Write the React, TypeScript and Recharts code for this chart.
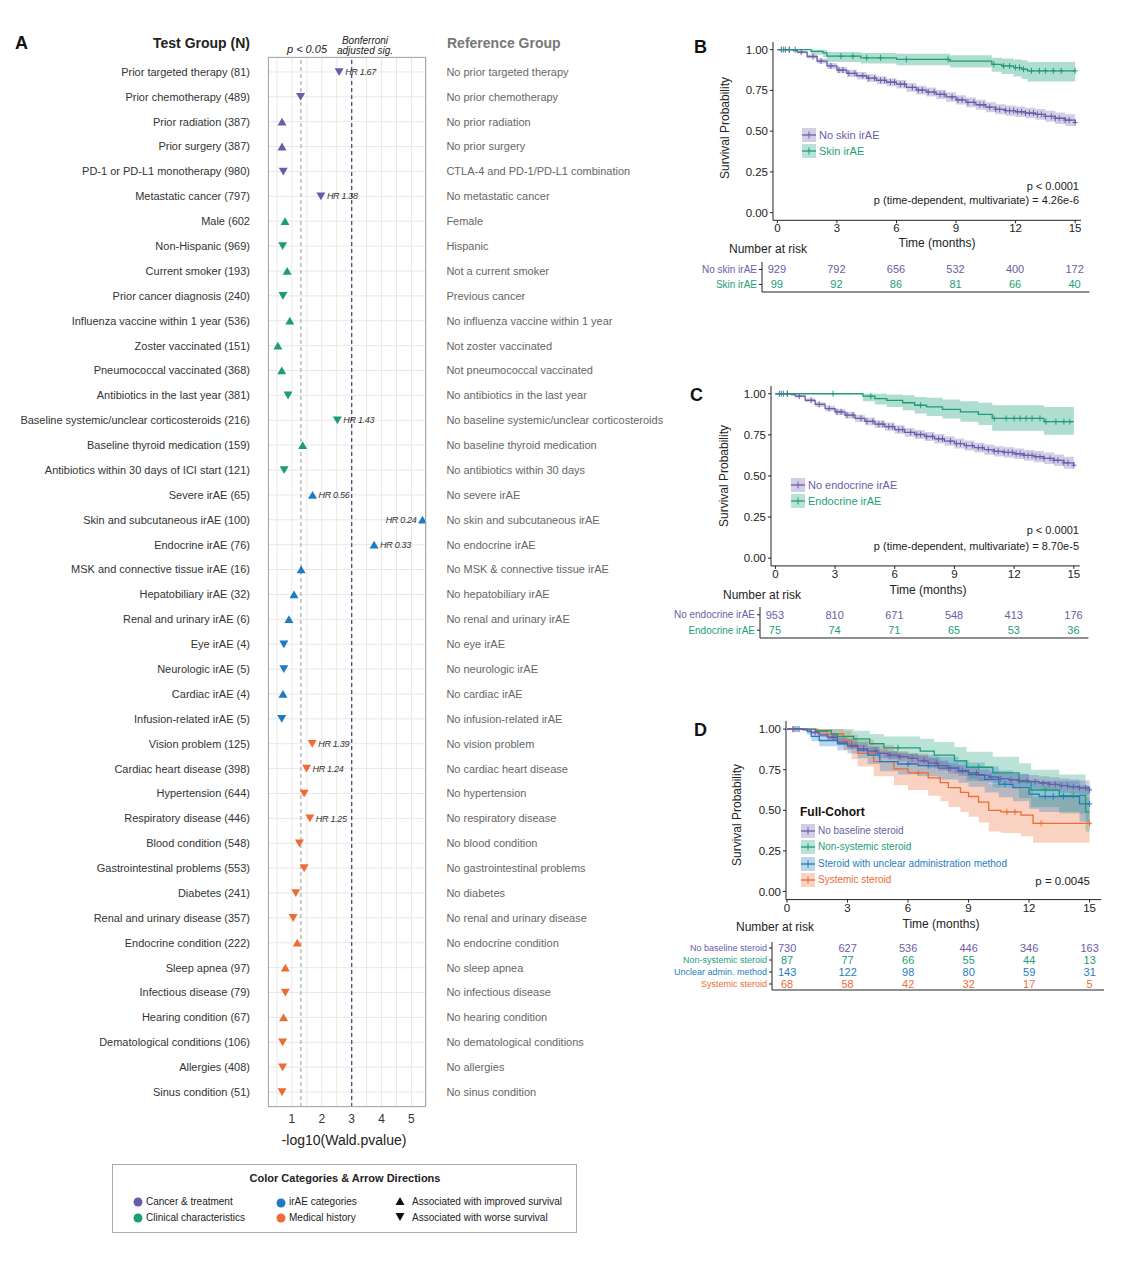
import React from "react";
import {
  Area,
  CartesianGrid,
  ComposedChart,
  Line,
  ReferenceLine,
  Scatter,
  ScatterChart,
  XAxis,
  YAxis,
} from "recharts";

const FONT = '"Liberation Sans", Arial, Helvetica, sans-serif';

const PURPLE = "#6b5ca8";
const GREEN = "#1b9e77";
const BLUE = "#1f7bbf";
const ORANGE = "#ee6b35";

// ---------- Panel A data ----------
const testGroups = [
  "Prior targeted therapy (81)",
  "Prior chemotherapy (489)",
  "Prior radiation (387)",
  "Prior surgery (387)",
  "PD-1 or PD-L1 monotherapy (980)",
  "Metastatic cancer (797)",
  "Male (602",
  "Non-Hispanic (969)",
  "Current smoker (193)",
  "Prior cancer diagnosis (240)",
  "Influenza vaccine within 1 year (536)",
  "Zoster vaccinated (151)",
  "Pneumococcal vaccinated (368)",
  "Antibiotics in the last year (381)",
  "Baseline systemic/unclear corticosteroids (216)",
  "Baseline thyroid medication (159)",
  "Antibiotics within 30 days of ICI start (121)",
  "Severe irAE (65)",
  "Skin and subcutaneous irAE (100)",
  "Endocrine irAE (76)",
  "MSK and connective tissue irAE (16)",
  "Hepatobiliary irAE (32)",
  "Renal and urinary irAE (6)",
  "Eye irAE (4)",
  "Neurologic irAE (5)",
  "Cardiac irAE (4)",
  "Infusion-related irAE (5)",
  "Vision problem (125)",
  "Cardiac heart disease (398)",
  "Hypertension (644)",
  "Respiratory disease (446)",
  "Blood condition (548)",
  "Gastrointestinal problems (553)",
  "Diabetes (241)",
  "Renal and urinary disease (357)",
  "Endocrine condition (222)",
  "Sleep apnea (97)",
  "Infectious disease (79)",
  "Hearing condition (67)",
  "Dematological conditions (106)",
  "Allergies (408)",
  "Sinus condition (51)",
];

const referenceGroups = [
  "No prior targeted therapy",
  "No prior chemotherapy",
  "No prior radiation",
  "No prior surgery",
  "CTLA-4 and PD-1/PD-L1 combination",
  "No metastatic cancer",
  "Female",
  "Hispanic",
  "Not a current smoker",
  "Previous cancer",
  "No influenza vaccine within 1 year",
  "Not zoster vaccinated",
  "Not pneumococcal vaccinated",
  "No antibiotics in the last year",
  "No baseline systemic/unclear corticosteroids",
  "No baseline thyroid medication",
  "No antibiotics within 30 days",
  "No severe irAE",
  "No skin and subcutaneous irAE",
  "No endocrine irAE",
  "No MSK & connective tissue irAE",
  "No hepatobiliary irAE",
  "No renal and urinary irAE",
  "No eye irAE",
  "No neurologic irAE",
  "No cardiac irAE",
  "No infusion-related irAE",
  "No vision problem",
  "No cardiac heart disease",
  "No hypertension",
  "No respiratory disease",
  "No blood condition",
  "No gastrointestinal problems",
  "No diabetes",
  "No renal and urinary disease",
  "No endocrine condition",
  "No sleep apnea",
  "No infectious disease",
  "No hearing condition",
  "No dematological conditions",
  "No allergies",
  "No sinus condition",
];

// -log10(Wald p)
const log10p = [
  2.58, 1.29, 0.67, 0.67, 0.71, 1.97,
  0.77, 0.69, 0.84, 0.7, 0.93, 0.53, 0.66, 0.87, 2.52, 1.36, 0.74,
  1.69, 5.37, 3.75, 1.31, 1.07, 0.9, 0.73, 0.73, 0.7, 0.66,
  1.68, 1.49, 1.41, 1.6, 1.25, 1.41, 1.13, 1.04, 1.18, 0.78, 0.78, 0.72, 0.69, 0.69, 0.67,
];

// 1 = improved survival (up), -1 = worse survival (down)
const arrowDir = [
  -1, -1, 1, 1, -1, -1,
  1, -1, 1, -1, 1, 1, 1, -1, -1, 1, -1,
  1, 1, 1, 1, 1, 1, -1, -1, 1, -1,
  -1, -1, -1, -1, -1, -1, -1, -1, 1, 1, -1, 1, -1, -1, -1,
];

const categoryOf = [
  "cancer", "cancer", "cancer", "cancer", "cancer", "cancer",
  "clinical", "clinical", "clinical", "clinical", "clinical", "clinical",
  "clinical", "clinical", "clinical", "clinical", "clinical",
  "irae", "irae", "irae", "irae", "irae", "irae", "irae", "irae", "irae", "irae",
  "medical", "medical", "medical", "medical", "medical", "medical", "medical", "medical",
  "medical", "medical", "medical", "medical", "medical", "medical", "medical",
];

const hrLabels = [
  "HR 1.67", "", "", "", "", "HR 1.38",
  "", "", "", "", "", "", "", "", "HR 1.43", "", "",
  "HR 0.56", "HR 0.24", "HR 0.33", "", "", "", "", "", "", "",
  "HR 1.39", "HR 1.24", "", "HR 1.25", "", "", "", "", "", "", "", "", "", "", "",
];

const forestXTicks = [0.5, 1, 1.5, 2, 2.5, 3, 3.5, 4, 4.5, 5, 5.5];

const catColor: Record<string, string> = {
  cancer: PURPLE,
  clinical: GREEN,
  irae: BLUE,
  medical: ORANGE,
};

// ---------- KM data: [time, survival, lower, upper] ----------
const noSkinPts = [
  [0, 1, 1, 1], [0.8, 0.995, 0.99, 1], [1.0, 0.985, 0.977, 0.993], [1.5, 0.958, 0.946, 0.97],
  [2.0, 0.93, 0.915, 0.945], [2.5, 0.9, 0.882, 0.918], [3.0, 0.875, 0.855, 0.895],
  [3.5, 0.855, 0.833, 0.877], [4.0, 0.84, 0.817, 0.863], [4.5, 0.825, 0.801, 0.849],
  [5.0, 0.812, 0.787, 0.837], [5.5, 0.8, 0.775, 0.825], [6.0, 0.788, 0.762, 0.814],
  [6.5, 0.768, 0.741, 0.795], [7.0, 0.752, 0.725, 0.779], [7.5, 0.74, 0.712, 0.768],
  [8.0, 0.726, 0.698, 0.754], [8.5, 0.71, 0.681, 0.739], [9.0, 0.692, 0.663, 0.721],
  [9.5, 0.677, 0.647, 0.707], [10.0, 0.662, 0.632, 0.692], [10.5, 0.647, 0.616, 0.678],
  [11.0, 0.634, 0.603, 0.665], [11.5, 0.626, 0.595, 0.657], [12.0, 0.619, 0.587, 0.651],
  [12.5, 0.611, 0.579, 0.643], [13.0, 0.603, 0.57, 0.636], [13.5, 0.591, 0.557, 0.625],
  [14.0, 0.579, 0.544, 0.614], [14.5, 0.568, 0.532, 0.604], [15.0, 0.553, 0.516, 0.59],
];
const noSkinCensor = [
  0.2, 0.4, 0.6, 1.2, 1.8, 2.2, 2.7, 3.1, 3.3, 3.6, 3.9, 4.3, 4.6, 4.9, 5.2, 5.4, 5.7, 5.9,
  6.2, 6.4, 6.8, 7.1, 7.3, 7.6, 7.9, 8.2, 8.4, 8.8, 9.1, 9.3, 9.6, 9.9, 10.2, 10.4, 10.7,
  11.0, 11.2, 11.5, 11.7, 11.9, 12.1, 12.3, 12.5, 12.7, 12.9, 13.1, 13.3, 13.5, 13.8,
  14.0, 14.2, 14.5, 14.7, 15.0,
];
const skinPts = [
  [0, 1, 1, 1], [1.7, 0.99, 0.97, 1], [2.3, 0.98, 0.955, 1], [2.5, 0.96, 0.925, 0.985],
  [4.2, 0.95, 0.915, 0.98], [6.0, 0.94, 0.905, 0.975], [8.7, 0.93, 0.89, 0.965],
  [10.8, 0.91, 0.865, 0.95], [11.3, 0.9, 0.85, 0.945], [11.9, 0.89, 0.835, 0.94],
  [12.3, 0.88, 0.82, 0.935], [12.6, 0.87, 0.805, 0.925], [15, 0.87, 0.805, 0.925],
];
const skinCensor = [
  0.3, 0.6, 0.9, 3.2, 3.8, 4.5, 5.2, 6.5, 8.6, 10.9, 11.4, 11.7, 12.0, 12.2, 12.4, 12.8,
  13.2, 13.5, 13.9, 14.3, 15.0,
];

const noEndoPts = [
  [0, 1, 1, 1], [0.8, 0.995, 0.99, 1], [1.0, 0.985, 0.977, 0.993], [1.5, 0.96, 0.948, 0.972],
  [2.0, 0.935, 0.92, 0.95], [2.5, 0.91, 0.893, 0.927], [3.0, 0.89, 0.871, 0.909],
  [3.5, 0.87, 0.849, 0.891], [4.0, 0.85, 0.828, 0.872], [4.5, 0.832, 0.809, 0.855],
  [5.0, 0.815, 0.791, 0.839], [5.5, 0.8, 0.775, 0.825], [6.0, 0.782, 0.756, 0.808],
  [6.5, 0.765, 0.738, 0.792], [7.0, 0.752, 0.724, 0.78], [7.5, 0.74, 0.712, 0.768],
  [8.0, 0.726, 0.697, 0.755], [8.5, 0.712, 0.683, 0.741], [9.0, 0.697, 0.667, 0.727],
  [9.5, 0.685, 0.655, 0.715], [10.0, 0.672, 0.642, 0.702], [10.5, 0.66, 0.629, 0.691],
  [11.0, 0.65, 0.619, 0.681], [11.5, 0.643, 0.611, 0.675], [12.0, 0.635, 0.603, 0.667],
  [12.5, 0.625, 0.592, 0.658], [13.0, 0.617, 0.583, 0.651], [13.5, 0.607, 0.572, 0.642],
  [14.0, 0.595, 0.56, 0.63], [14.5, 0.58, 0.544, 0.616], [15.0, 0.565, 0.528, 0.602],
];
const noEndoCensor = noSkinCensor;
const endoPts = [
  [0, 1, 1, 1], [4.4, 0.985, 0.955, 1], [5.0, 0.97, 0.935, 1], [5.6, 0.96, 0.92, 0.995],
  [6.4, 0.945, 0.9, 0.99], [7.0, 0.93, 0.88, 0.98], [7.6, 0.92, 0.865, 0.975],
  [8.4, 0.905, 0.85, 0.965], [9.3, 0.89, 0.83, 0.955], [10.2, 0.875, 0.81, 0.945],
  [10.9, 0.85, 0.775, 0.93], [13.5, 0.83, 0.75, 0.92], [15, 0.83, 0.75, 0.92],
];
const endoCensor = [
  0.3, 0.6, 2.9, 4.8, 7.3, 11.0, 11.6, 12.0, 12.3, 12.6, 12.9, 13.3, 13.6, 14.1, 14.5, 14.8,
];

const noSteroidPts = [
  [0, 1, 1, 1], [0.8, 0.995, 0.99, 1], [1.2, 0.98, 0.97, 0.99], [1.6, 0.965, 0.952, 0.978],
  [2.0, 0.95, 0.935, 0.965], [2.5, 0.92, 0.9, 0.94], [3.0, 0.9, 0.878, 0.922],
  [3.5, 0.88, 0.856, 0.904], [4.0, 0.865, 0.84, 0.89], [4.5, 0.85, 0.824, 0.876],
  [5.0, 0.84, 0.813, 0.867], [5.5, 0.83, 0.802, 0.858], [6.0, 0.82, 0.791, 0.849],
  [6.5, 0.805, 0.775, 0.835], [7.0, 0.79, 0.759, 0.821], [7.5, 0.775, 0.743, 0.807],
  [8.0, 0.76, 0.727, 0.793], [8.5, 0.745, 0.711, 0.779], [9.0, 0.73, 0.695, 0.765],
  [9.5, 0.715, 0.679, 0.751], [10.0, 0.705, 0.668, 0.742], [10.5, 0.695, 0.657, 0.733],
  [11.0, 0.688, 0.649, 0.727], [11.5, 0.682, 0.642, 0.722], [12.0, 0.676, 0.635, 0.717],
  [12.5, 0.668, 0.626, 0.71], [13.0, 0.66, 0.617, 0.703], [13.5, 0.652, 0.608, 0.696],
  [14.0, 0.645, 0.6, 0.69], [14.5, 0.638, 0.592, 0.684], [15, 0.625, 0.578, 0.672],
];
const noSteroidCensor = [
  0.3, 0.6, 1.4, 2.3, 3.2, 3.8, 4.4, 5.1, 5.6, 6.2, 6.8, 7.4, 8.1, 8.7, 9.4, 10.1, 10.6,
  11.1, 11.5, 11.9, 12.3, 12.7, 13.0, 13.3, 13.6, 13.9, 14.2, 14.5, 14.8, 15.0,
];
const nonSystemicPts = [
  [0, 1, 1, 1], [1.4, 0.99, 0.97, 1], [2.2, 0.97, 0.935, 1], [2.5, 0.955, 0.91, 1],
  [3.3, 0.94, 0.89, 0.99], [4.1, 0.91, 0.85, 0.97], [4.8, 0.885, 0.82, 0.955],
  [6.6, 0.865, 0.795, 0.94], [7.3, 0.84, 0.765, 0.92], [8.3, 0.805, 0.725, 0.89],
  [8.9, 0.765, 0.68, 0.86], [10.2, 0.73, 0.64, 0.83], [11.5, 0.675, 0.575, 0.79],
  [12.1, 0.625, 0.52, 0.75], [13.5, 0.59, 0.48, 0.72], [14.8, 0.49, 0.37, 0.65],
  [15, 0.49, 0.37, 0.65],
];
const nonSystemicCensor = [0.5, 5.5, 9.5, 12.8, 14.2];
const unclearPts = [
  [0, 1, 1, 1], [1.0, 0.985, 0.965, 1], [1.2, 0.955, 0.925, 0.99], [1.6, 0.93, 0.895, 0.97],
  [2.5, 0.91, 0.87, 0.955], [3.0, 0.895, 0.85, 0.94], [3.5, 0.87, 0.82, 0.92],
  [4.0, 0.84, 0.785, 0.895], [4.6, 0.8, 0.74, 0.86], [5.5, 0.785, 0.72, 0.85],
  [6.5, 0.775, 0.71, 0.84], [7.5, 0.76, 0.69, 0.83], [8.5, 0.74, 0.67, 0.81],
  [9.0, 0.72, 0.645, 0.795], [9.8, 0.69, 0.61, 0.77], [10.5, 0.66, 0.58, 0.745],
  [11.2, 0.64, 0.555, 0.725], [12.0, 0.6, 0.51, 0.69], [12.5, 0.585, 0.49, 0.68],
  [14.5, 0.54, 0.43, 0.655], [15, 0.54, 0.43, 0.655],
];
const unclearCensor = [0.4, 6.0, 7.0, 8.0, 10.8, 12.8, 13.2, 13.7, 15.0];
const systemicPts = [
  [0, 1, 1, 1], [1.5, 0.985, 0.955, 1], [2.0, 0.97, 0.93, 1], [2.8, 0.93, 0.87, 0.99],
  [3.2, 0.89, 0.815, 0.965], [3.5, 0.85, 0.77, 0.935], [4.3, 0.8, 0.71, 0.9],
  [5.3, 0.755, 0.655, 0.865], [6.0, 0.73, 0.625, 0.85], [7.0, 0.7, 0.59, 0.825],
  [7.6, 0.67, 0.555, 0.8], [8.0, 0.64, 0.52, 0.775], [8.6, 0.61, 0.49, 0.75],
  [9.0, 0.585, 0.46, 0.73], [9.5, 0.55, 0.425, 0.7], [10.0, 0.5, 0.37, 0.66],
  [10.6, 0.49, 0.36, 0.65], [11.6, 0.47, 0.34, 0.63], [12.2, 0.42, 0.3, 0.58],
  [15, 0.42, 0.3, 0.58],
];
const systemicCensor = [0.3, 6.5, 10.9, 11.3, 12.6, 15.0];

// ---------- Number at risk ----------
const riskTimes = [0, 3, 6, 9, 12, 15];
const riskNoSkin = [929, 792, 656, 532, 400, 172];
const riskSkin = [99, 92, 86, 81, 66, 40];
const riskNoEndo = [953, 810, 671, 548, 413, 176];
const riskEndo = [75, 74, 71, 65, 53, 36];
const riskNoSteroid = [730, 627, 536, 446, 346, 163];
const riskNonSystemic = [87, 77, 66, 55, 44, 13];
const riskUnclear = [143, 122, 98, 80, 59, 31];
const riskSystemic = [68, 58, 42, 32, 17, 5];

const kmXTicks = [0, 3, 6, 9, 12, 15];
const kmYTicks = [0, 0.25, 0.5, 0.75, 1];

// ---------- helpers ----------
type Anchor = "start" | "middle" | "end";

function Txt(props: {
  x: number;
  y: number;
  children: React.ReactNode;
  anchor?: Anchor;
  size?: number;
  color?: string;
  weight?: number;
  italic?: boolean;
  rotate?: boolean;
}) {
  const { x, y, children, anchor = "start", size = 11, color = "#222", weight = 400, italic, rotate } = props;
  const tx = anchor === "start" ? "0" : anchor === "middle" ? "-50%" : "-100%";
  return (
    <div
      style={{
        position: "absolute",
        left: x,
        top: y,
        transform: `translate(${rotate ? "-50%" : tx}, -50%)${rotate ? " rotate(-90deg)" : ""}`,
        fontFamily: FONT,
        fontSize: size,
        fontWeight: weight,
        fontStyle: italic ? "italic" : "normal",
        color,
        whiteSpace: "nowrap",
        lineHeight: 1,
      }}
    >
      {children}
    </div>
  );
}

const survAt = (pts: number[][], t: number) => {
  let s = 1;
  for (const p of pts) if (p[0] <= t) s = p[1];
  return s;
};

// plain svg text ticks, so Recharts does not wrap the long labels
const rowTick = (labels: string[], anchor: Anchor, fill: string) => (p: any) => (
  <text x={p.x} y={p.y} dy="0.355em" textAnchor={anchor} fontSize={11} fill={fill} fontFamily={FONT}>
    {labels[p.payload.value] ?? ""}
  </text>
);

const ForestMarker = (props: any) => {
  const { cx, cy, payload } = props;
  if (cx == null || cy == null) return <g />;
  const col = catColor[payload.cat];
  const w = 4.5;
  const d =
    payload.dir > 0
      ? `M${cx - w},${cy + 3.8} L${cx + w},${cy + 3.8} L${cx},${cy - 4} Z`
      : `M${cx - w},${cy - 3.8} L${cx + w},${cy - 3.8} L${cx},${cy + 4} Z`;
  const onLeft = payload.x > 5;
  return (
    <g>
      <path d={d} fill={col} />
      {payload.hr ? (
        <text
          x={onLeft ? cx - 6 : cx + 6}
          y={cy}
          dy="0.35em"
          textAnchor={onLeft ? "end" : "start"}
          fontSize={9}
          fontStyle="italic"
          fill="#333"
          fontFamily={FONT}
          letterSpacing={-0.3}
        >
          {payload.hr}
        </text>
      ) : null}
    </g>
  );
};

const CensorMark = (color: string) => (props: any) => {
  const { cx, cy } = props;
  if (cx == null || cy == null) return <g />;
  return (
    <g stroke={color} strokeWidth={1}>
      <line x1={cx} y1={cy - 3} x2={cx} y2={cy + 3} />
      <line x1={cx - 2.5} y1={cy} x2={cx + 2.5} y2={cy} />
    </g>
  );
};

type KMCurve = { color: string; pts: number[][]; censor: number[]; band: number };

function KMPlot(props: {
  left: number;
  top: number;
  plotW: number;
  plotH: number;
  xDomain: [number, number];
  yDomain: [number, number];
  curves: KMCurve[];
}) {
  const { left, top, plotW, plotH, xDomain, yDomain, curves } = props;
  const yW = 50;
  const xH = 24;
  return (
    <div style={{ position: "absolute", left: left - yW, top }}>
      <ComposedChart
        width={yW + plotW}
        height={plotH + xH}
        margin={{ top: 0, right: 0, bottom: 0, left: 0 }}
        style={{ fontFamily: FONT }}
      >
        <XAxis
          type="number"
          dataKey="t"
          domain={xDomain}
          allowDataOverflow
          ticks={kmXTicks}
          interval={0}
          height={xH}
          stroke="#222"
          tickSize={3}
          tickMargin={1}
          tick={{ fontSize: 11.5, fill: "#222" }}
        />
        <YAxis
          type="number"
          domain={yDomain}
          allowDataOverflow
          ticks={kmYTicks}
          interval={0}
          width={yW}
          stroke="#222"
          tickSize={3}
          tickMargin={2}
          tickFormatter={(v: number) => v.toFixed(2)}
          tick={{ fontSize: 11.5, fill: "#222" }}
        />
        {curves.map((c, i) => (
          <Area
            key={`band-${i}`}
            data={c.pts.map((p) => ({ t: p[0], band: [p[2], p[3]] }))}
            dataKey="band"
            type="stepAfter"
            stroke="none"
            fill={c.color}
            fillOpacity={c.band}
            isAnimationActive={false}
          />
        ))}
        {curves.map((c, i) => (
          <Line
            key={`line-${i}`}
            data={c.pts.map((p) => ({ t: p[0], s: p[1] }))}
            dataKey="s"
            type="stepAfter"
            stroke={c.color}
            strokeWidth={1.3}
            dot={false}
            isAnimationActive={false}
          />
        ))}
        {curves.map((c, i) => (
          <Scatter
            key={`cens-${i}`}
            data={c.censor.map((t) => ({ t, s: survAt(c.pts, t) }))}
            dataKey="s"
            shape={CensorMark(c.color)}
            isAnimationActive={false}
          />
        ))}
      </ComposedChart>
    </div>
  );
}

type RiskRow = { label: string; color: string; values: number[] };

function RiskTable(props: {
  left: number;
  top: number;
  plotW: number;
  plotH: number;
  rows: RiskRow[];
  labelSize: number;
}) {
  const { left, top, plotW, plotH, rows, labelSize } = props;
  const yW = 110;
  const data = rows.flatMap((r, ri) =>
    riskTimes.map((t, ti) => ({ x: t, y: ri + 1, v: r.values[ti], c: r.color }))
  );
  const RiskTick = (p: any) => {
    const row = rows[p.payload.value - 1];
    return (
      <text x={p.x} y={p.y} dy="0.35em" textAnchor="end" fontSize={labelSize} fill={row ? row.color : "#333"} fontFamily={FONT}>
        {row ? row.label : ""}
      </text>
    );
  };
  const NumShape = (p: any) => (
    <text x={p.cx} y={p.cy} dy="0.36em" textAnchor="middle" fontSize={11} fill={p.payload.c} fontFamily={FONT}>
      {p.payload.v}
    </text>
  );
  return (
    <div style={{ position: "absolute", left: left - yW, top }}>
      <ScatterChart width={yW + plotW} height={plotH + 2} margin={{ top: 0, right: 0, bottom: 0, left: 0 }}>
        <XAxis type="number" dataKey="x" domain={[-0.75, 15.75]} allowDataOverflow height={2} tick={false} tickLine={false} stroke="#222" />
        <YAxis
          type="number"
          dataKey="y"
          domain={[0.5, rows.length + 0.5]}
          reversed
          allowDataOverflow
          ticks={rows.map((_, i) => i + 1)}
          interval={0}
          width={yW}
          stroke="#222"
          tickSize={3}
          tickMargin={2}
          tick={RiskTick}
        />
        <Scatter data={data} shape={NumShape} isAnimationActive={false} />
      </ScatterChart>
    </div>
  );
}

function Swatch({ color }: { color: string }) {
  return (
    <svg width={14} height={14} style={{ display: "block" }}>
      <rect width={14} height={14} fill={color} fillOpacity={0.3} />
      <line x1={0} y1={7} x2={14} y2={7} stroke={color} strokeWidth={1.3} />
      <line x1={7} y1={3.5} x2={7} y2={10.5} stroke={color} strokeWidth={1} />
    </svg>
  );
}

function KMLegend({ x, y, items, size, step }: { x: number; y: number; items: { label: string; color: string }[]; size: number; step: number }) {
  return (
    <>
      {items.map((it, i) => (
        <div key={i} style={{ position: "absolute", left: x, top: y + i * step - 7 }}>
          <Swatch color={it.color} />
        </div>
      ))}
      {items.map((it, i) => (
        <Txt key={`t${i}`} x={x + 17} y={y + i * step} size={size} color={it.color}>
          {it.label}
        </Txt>
      ))}
    </>
  );
}

export default function App() {
  const forestRows = testGroups.map((g, i) => ({
    x: log10p[i],
    y: i,
    dir: arrowDir[i],
    cat: categoryOf[i],
    hr: hrLabels[i],
  }));
  const rowIdx = testGroups.map((_, i) => i);

  return (
    <div style={{ position: "absolute", left: 0, top: 0, width: 1128, height: 1280, background: "#fff", fontFamily: FONT }}>
      {/* ---------- Panel A ---------- */}
      <Txt x={15} y={43} size={18} weight={700} color="#111">A</Txt>
      <Txt x={250} y={43} anchor="end" size={14} weight={700} color="#222">Test Group (N)</Txt>
      <Txt x={447} y={43} size={14} weight={700} color="#777">Reference Group</Txt>
      <Txt x={307} y={49} anchor="middle" size={11} italic color="#222">p &lt; 0.05</Txt>
      <Txt x={365} y={41} anchor="middle" size={10} italic color="#222">Bonferroni</Txt>
      <Txt x={365} y={51} anchor="middle" size={10} italic color="#222">adjusted sig.</Txt>

      <div style={{ position: "absolute", left: 0, top: 47 }}>
        <ScatterChart width={268 + 158.4 + 260} height={10 + 1050 + 30} margin={{ top: 10, right: 0, bottom: 0, left: 0 }}>
          <CartesianGrid yAxisId="left" stroke="#e8e8e8" />
          <XAxis
            type="number"
            dataKey="x"
            domain={[0.2, 5.5]}
            allowDataOverflow
            ticks={forestXTicks}
            interval={0}
            tickFormatter={(v: number) => (Number.isInteger(v) ? String(v) : "")}
            axisLine={false}
            tickLine={false}
            tickSize={0}
            tickMargin={7}
            height={30}
            tick={{ fontSize: 12, fill: "#333", fontFamily: FONT }}
          />
          <YAxis
            yAxisId="left"
            type="number"
            dataKey="y"
            domain={[-0.6, 41.6]}
            reversed
            allowDataOverflow
            ticks={rowIdx}
            interval={0}
            width={268}
            axisLine={false}
            tickLine={false}
            tickSize={0}
            tickMargin={18}
            tick={rowTick(testGroups, "end", "#333")}
          />
          <YAxis
            yAxisId="right"
            orientation="right"
            type="number"
            dataKey="y"
            domain={[-0.6, 41.6]}
            reversed
            allowDataOverflow
            ticks={rowIdx}
            interval={0}
            width={260}
            axisLine={false}
            tickLine={false}
            tickSize={0}
            tickMargin={20}
            tick={rowTick(referenceGroups, "start", "#666")}
          />
          <ReferenceLine yAxisId="left" x={1.301} stroke="#aaa" strokeDasharray="4 3" strokeWidth={1.2} />
          <ReferenceLine yAxisId="left" x={3} stroke="#4d4d7a" strokeDasharray="4 3" strokeWidth={1.3} />
          <Scatter yAxisId="left" data={forestRows} shape={ForestMarker} isAnimationActive={false} />
          <Scatter yAxisId="right" data={forestRows} shape={() => <g />} isAnimationActive={false} />
        </ScatterChart>
      </div>
      <div
        style={{
          position: "absolute",
          left: 268,
          top: 57,
          width: 158.4,
          height: 1050,
          border: "1px solid #aaa",
          boxSizing: "border-box",
          pointerEvents: "none",
        }}
      />
      <Txt x={344} y={1140} anchor="middle" size={14} color="#222">-log10(Wald.pvalue)</Txt>

      {/* Legend box */}
      <div
        style={{
          position: "absolute",
          left: 112,
          top: 1164,
          width: 465,
          height: 69,
          border: "1px solid #aaa",
          boxSizing: "border-box",
        }}
      />
      <Txt x={345} y={1178} anchor="middle" size={11} weight={700} color="#222">Color Categories &amp; Arrow Directions</Txt>
      <svg style={{ position: "absolute", left: 0, top: 0, pointerEvents: "none" }} width={600} height={1280}>
        <circle cx={138} cy={1202} r={4.5} fill={PURPLE} />
        <circle cx={138} cy={1218} r={4.5} fill={GREEN} />
        <circle cx={281} cy={1203} r={4.5} fill={BLUE} />
        <circle cx={281} cy={1218} r={4.5} fill={ORANGE} />
        <path d="M395.5,1205 L404.5,1205 L400,1197 Z" fill="#111" />
        <path d="M395.5,1213 L404.5,1213 L400,1221 Z" fill="#111" />
      </svg>
      <Txt x={146} y={1202} size={10}>Cancer &amp; treatment</Txt>
      <Txt x={146} y={1218} size={10}>Clinical characteristics</Txt>
      <Txt x={289} y={1202} size={10}>irAE categories</Txt>
      <Txt x={289} y={1218} size={10}>Medical history</Txt>
      <Txt x={412} y={1202} size={10}>Associated with improved survival</Txt>
      <Txt x={412} y={1218} size={10}>Associated with worse survival</Txt>

      {/* ---------- Panel B ---------- */}
      <Txt x={694} y={47} size={18} weight={700} color="#111">B</Txt>
      <Txt x={725} y={128} rotate size={12}>Survival Probability</Txt>
      <KMPlot
        left={772.9}
        top={41.6}
        plotW={308.1}
        plotH={178.3}
        xDomain={[-0.22, 15.3]}
        yDomain={[-0.047, 1.047]}
        curves={[
          { color: PURPLE, pts: noSkinPts, censor: noSkinCensor, band: 0.3 },
          { color: GREEN, pts: skinPts, censor: skinCensor, band: 0.35 },
        ]}
      />
      <KMLegend
        x={802}
        y={135}
        step={16}
        size={11}
        items={[
          { label: "No skin irAE", color: PURPLE },
          { label: "Skin irAE", color: GREEN },
        ]}
      />
      <Txt x={1079} y={186} anchor="end" size={11}>p &lt; 0.0001</Txt>
      <Txt x={1079} y={200} anchor="end" size={11}>p (time-dependent, multivariate) = 4.26e-6</Txt>
      <Txt x={937} y={243} anchor="middle" size={12}>Time (months)</Txt>
      <Txt x={729} y={249} size={12}>Number at risk</Txt>
      <RiskTable
        left={762.4}
        top={262}
        plotW={327.5}
        plotH={30}
        labelSize={10}
        rows={[
          { label: "No skin irAE", color: PURPLE, values: riskNoSkin },
          { label: "Skin irAE", color: GREEN, values: riskSkin },
        ]}
      />

      {/* ---------- Panel C ---------- */}
      <Txt x={690} y={395} size={18} weight={700} color="#111">C</Txt>
      <Txt x={724} y={476} rotate size={12}>Survival Probability</Txt>
      <KMPlot
        left={770.9}
        top={385.6}
        plotW={308.8}
        plotH={179.9}
        xDomain={[-0.22, 15.3]}
        yDomain={[-0.047, 1.047]}
        curves={[
          { color: PURPLE, pts: noEndoPts, censor: noEndoCensor, band: 0.3 },
          { color: GREEN, pts: endoPts, censor: endoCensor, band: 0.35 },
        ]}
      />
      <KMLegend
        x={791}
        y={485}
        step={16}
        size={11}
        items={[
          { label: "No endocrine irAE", color: PURPLE },
          { label: "Endocrine irAE", color: GREEN },
        ]}
      />
      <Txt x={1079} y={530} anchor="end" size={11}>p &lt; 0.0001</Txt>
      <Txt x={1079} y={546} anchor="end" size={11}>p (time-dependent, multivariate) = 8.70e-5</Txt>
      <Txt x={928} y={590} anchor="middle" size={12}>Time (months)</Txt>
      <Txt x={723} y={595} size={12}>Number at risk</Txt>
      <RiskTable
        left={760.4}
        top={607}
        plotW={328.4}
        plotH={31}
        labelSize={10}
        rows={[
          { label: "No endocrine irAE", color: PURPLE, values: riskNoEndo },
          { label: "Endocrine irAE", color: GREEN, values: riskEndo },
        ]}
      />

      {/* ---------- Panel D ---------- */}
      <Txt x={694} y={730} size={18} weight={700} color="#111">D</Txt>
      <Txt x={737} y={815} rotate size={12}>Survival Probability</Txt>
      <KMPlot
        left={785.7}
        top={721.2}
        plotW={315.7}
        plotH={178.6}
        xDomain={[-0.05, 15.6]}
        yDomain={[-0.05, 1.05]}
        curves={[
          { color: ORANGE, pts: systemicPts, censor: systemicCensor, band: 0.3 },
          { color: GREEN, pts: nonSystemicPts, censor: nonSystemicCensor, band: 0.3 },
          { color: BLUE, pts: unclearPts, censor: unclearCensor, band: 0.3 },
          { color: PURPLE, pts: noSteroidPts, censor: noSteroidCensor, band: 0.3 },
        ]}
      />
      <Txt x={800} y={812} size={12} weight={700} color="#111">Full-Cohort</Txt>
      <KMLegend
        x={801}
        y={831}
        step={16.3}
        size={10}
        items={[
          { label: "No baseline steroid", color: PURPLE },
          { label: "Non-systemic steroid", color: GREEN },
          { label: "Steroid with unclear administration method", color: BLUE },
          { label: "Systemic steroid", color: ORANGE },
        ]}
      />
      <Txt x={1090} y={882} anchor="end" size={11.5}>p = 0.0045</Txt>
      <Txt x={941} y={924} anchor="middle" size={12}>Time (months)</Txt>
      <Txt x={736} y={927} size={12}>Number at risk</Txt>
      <RiskTable
        left={771.6}
        top={942}
        plotW={332.8}
        plotH={48}
        labelSize={9}
        rows={[
          { label: "No baseline steroid", color: PURPLE, values: riskNoSteroid },
          { label: "Non-systemic steroid", color: GREEN, values: riskNonSystemic },
          { label: "Unclear admin. method", color: BLUE, values: riskUnclear },
          { label: "Systemic steroid", color: ORANGE, values: riskSystemic },
        ]}
      />
    </div>
  );
}
